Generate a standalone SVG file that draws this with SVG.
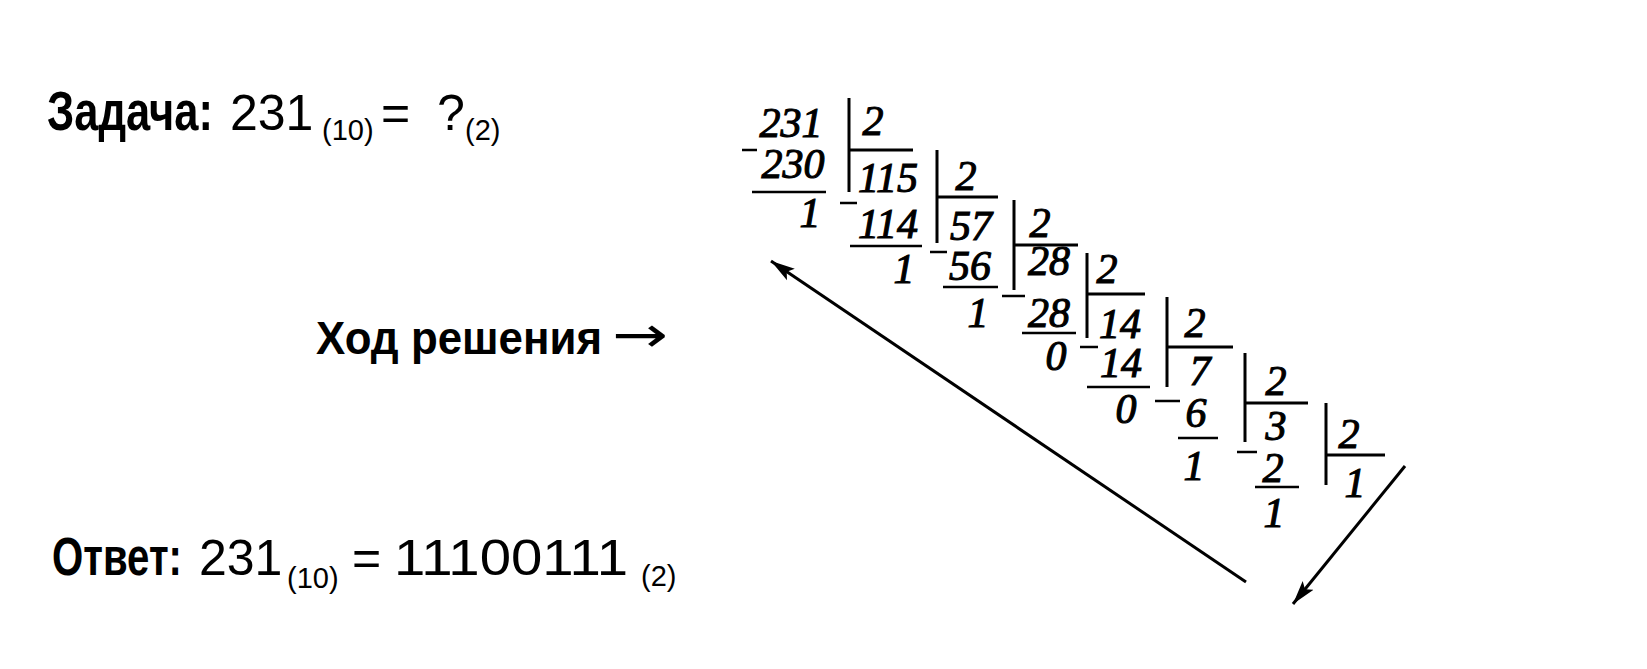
<svg xmlns="http://www.w3.org/2000/svg" width="1647" height="669" viewBox="0 0 1647 669">
<style>
.line{font-family:"Liberation Sans",Arial,sans-serif;font-size:50px;fill:#000}
.b{font-weight:bold}
.sub{font-size:29px}
.num{font-family:"Liberation Serif","Times New Roman",serif;font-style:italic;font-size:42px;fill:#000;stroke:#000;stroke-width:1.1;text-anchor:middle}
.ln{stroke:#000;stroke-width:2.6;fill:none}
.bar{stroke:#000;stroke-width:3;fill:none}
.arr{stroke:#000;stroke-width:3;fill:none}
</style>
<defs>
<marker id="ah" markerUnits="userSpaceOnUse" markerWidth="26" markerHeight="18" refX="24" refY="8" orient="auto">
<path d="M0,1 L24,8 L0,15 L5,8 Z" fill="#000"/>
</marker>
</defs>
<rect width="1647" height="669" fill="#fff"/>

<g id="task">
<text class="line" y="130"><tspan class="b" x="47" font-size="56" textLength="166" lengthAdjust="spacingAndGlyphs">Задача:</tspan><tspan x="230">231</tspan><tspan class="sub" x="322" y="140">(10)</tspan><tspan x="381" y="130">=</tspan><tspan x="437">?</tspan><tspan class="sub" x="465" y="140">(2)</tspan></text>
</g>

<g id="solution-label">
<text class="line" y="354"><tspan class="b" x="316" font-size="47" textLength="286" lengthAdjust="spacingAndGlyphs">Ход решения</tspan><tspan x="612" y="352" font-family="DejaVu Sans,sans-serif" font-size="50" textLength="56" lengthAdjust="spacingAndGlyphs">→</tspan></text>
</g>

<g id="answer">
<text class="line" y="575"><tspan class="b" x="52" font-size="54" textLength="130" lengthAdjust="spacingAndGlyphs">Ответ:</tspan><tspan x="199">231</tspan><tspan class="sub" x="287" y="588">(10)</tspan><tspan x="352" y="575">=</tspan><tspan x="394" textLength="234" lengthAdjust="spacingAndGlyphs">11100111</tspan><tspan class="sub" x="641" y="586">(2)</tspan></text>
</g>

<g id="division">
<g id="step1">
<text class="num" x="791" y="137">231</text>
<text class="num" x="793" y="178">230</text>
<text class="num" x="810" y="227">1</text>
<text class="num" x="873" y="135">2</text>
<path class="bar" d="M849,98 V192 M849,150 H913"/>
<path class="ln" d="M742,150 H757 M752,192 H826"/>
</g>
<g id="step2">
<text class="num" x="888" y="192">115</text>
<text class="num" x="888" y="238">114</text>
<text class="num" x="904" y="283">1</text>
<text class="num" x="966" y="190">2</text>
<path class="bar" d="M937,150 V243 M937,197 H998"/>
<path class="ln" d="M840,203 H857 M850,246 H922"/>
</g>
<g id="step3">
<text class="num" x="971" y="240">57</text>
<text class="num" x="970" y="280">56</text>
<text class="num" x="978" y="327">1</text>
<text class="num" x="1040" y="237">2</text>
<path class="bar" d="M1014,200 V290 M1014,245 H1078"/>
<path class="ln" d="M930,252 H947 M943,287 H998"/>
</g>
<g id="step4">
<text class="num" x="1049" y="275">28</text>
<text class="num" x="1049" y="327">28</text>
<text class="num" x="1056" y="370">0</text>
<text class="num" x="1107" y="283">2</text>
<path class="bar" d="M1087,253 V338 M1087,294 H1145"/>
<path class="ln" d="M1002,296 H1025 M1022,333 H1076"/>
</g>
<g id="step5">
<text class="num" x="1120" y="338">14</text>
<text class="num" x="1121" y="377">14</text>
<text class="num" x="1126" y="423">0</text>
<text class="num" x="1195" y="337">2</text>
<path class="bar" d="M1167,297 V387 M1167,347 H1233"/>
<path class="ln" d="M1080,347 H1098 M1087,387 H1150"/>
</g>
<g id="step6">
<text class="num" x="1200" y="385">7</text>
<text class="num" x="1196" y="427">6</text>
<text class="num" x="1194" y="480">1</text>
<text class="num" x="1276" y="395">2</text>
<path class="bar" d="M1245,353 V442 M1245,403 H1308"/>
<path class="ln" d="M1155,401 H1180 M1178,438 H1218"/>
</g>
<g id="step7">
<text class="num" x="1276" y="440">3</text>
<text class="num" x="1273" y="482">2</text>
<text class="num" x="1274" y="527">1</text>
<text class="num" x="1349" y="448">2</text>
<text class="num" x="1355" y="497">1</text>
<path class="bar" d="M1326,403 V485 M1326,455 H1385"/>
<path class="ln" d="M1237,452 H1257 M1255,487 H1299"/>
</g>
</g>

<g id="connectors">
<line class="arr" x1="1246" y1="582" x2="771" y2="261" marker-end="url(#ah)"/>
<line class="arr" x1="1405" y1="466" x2="1293" y2="604" marker-end="url(#ah)"/>
</g>
</svg>
